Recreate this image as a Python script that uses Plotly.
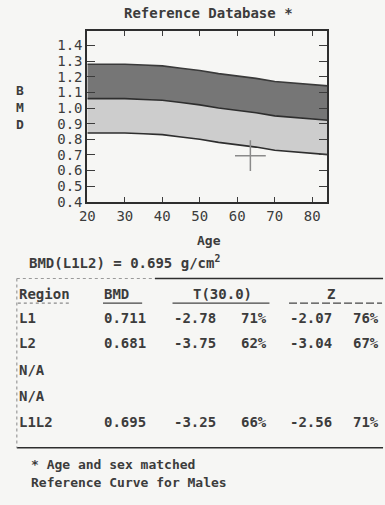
import plotly.graph_objects as go

W, H = 385, 505
BG = "#f6f6f4"
INK = "#3c3c3c"
DARK_BAND = "#767676"
LIGHT_BAND = "#cdcdcd"
FONT = "DejaVu Sans Mono"

ages = [20, 25, 30, 35, 40, 45, 50, 55, 60, 65, 70, 75, 80, 85]
upper = [1.28, 1.28, 1.28, 1.275, 1.27, 1.255, 1.24, 1.22, 1.205, 1.19, 1.17, 1.16, 1.15, 1.14]
mean = [1.06, 1.06, 1.06, 1.055, 1.05, 1.035, 1.02, 1.00, 0.985, 0.97, 0.95, 0.94, 0.93, 0.92]
lower = [0.84, 0.84, 0.84, 0.835, 0.83, 0.815, 0.80, 0.78, 0.765, 0.75, 0.73, 0.72, 0.71, 0.70]

patient_age = [63.5]
patient_bmd = [0.695]

x_ticks = [20, 30, 40, 50, 60, 70, 80]
y_ticks = [0.4, 0.5, 0.6, 0.7, 0.8, 0.9, 1.0, 1.1, 1.2, 1.3, 1.4]

regions = ["L1", "L2", "N/A", "N/A", "L1L2"]
bmd = ["0.711", "0.681", "", "", "0.695"]
t_score = ["-2.78", "-3.75", "", "", "-3.25"]
t_pct = ["71%", "62%", "", "", "66%"]
z_score = ["-2.07", "-3.04", "", "", "-2.56"]
z_pct = ["76%", "67%", "", "", "71%"]


def px(x):
    return x / W


def py(y):
    return 1 - y / H


fig = go.Figure()

fig.add_trace(go.Scatter(x=ages, y=lower, mode="lines",
                         line=dict(color="#2e2e2e", width=1.6), showlegend=False))
fig.add_trace(go.Scatter(x=ages, y=mean, mode="lines", fill="tonexty",
                         fillcolor=LIGHT_BAND,
                         line=dict(color="#2e2e2e", width=1.6), showlegend=False))
fig.add_trace(go.Scatter(x=ages, y=upper, mode="lines", fill="tonexty",
                         fillcolor=DARK_BAND,
                         line=dict(color="#3a3a3a", width=1.6), showlegend=False))
fig.add_trace(go.Scatter(x=patient_age, y=patient_bmd, mode="markers",
                         marker=dict(symbol="cross-thin", size=22,
                                     line=dict(color="#8a8a8a", width=1.5)),
                         showlegend=False))

axis_font = dict(family=FONT, size=14, color=INK)

fig.update_layout(
    width=W,
    height=H,
    margin=dict(l=0, r=0, t=0, b=0),
    paper_bgcolor=BG,
    plot_bgcolor=BG,
    xaxis=dict(
        domain=[px(81), px(326)],
        range=[20, 84],
        tickvals=x_ticks,
        ticktext=[str(v) for v in x_ticks],
        ticks="inside",
        ticklen=5,
        tickcolor=INK,
        showline=True,
        linecolor="#2e2e2e",
        linewidth=2,
        mirror="allticks",
        showgrid=False,
        zeroline=False,
        tickfont=axis_font,
    ),
    yaxis=dict(
        domain=[py(205), py(32)],
        range=[0.4, 1.49],
        tickvals=y_ticks,
        ticktext=[f"{v:.1f}" for v in y_ticks],
        ticks="inside",
        ticklen=8,
        tickcolor=INK,
        showline=True,
        linecolor="#2e2e2e",
        linewidth=2,
        mirror="allticks",
        showgrid=False,
        zeroline=False,
        tickfont=axis_font,
    ),
)

ann = []


def text(x, y, s, size=14, anchor="left"):
    ann.append(dict(x=px(x), y=py(y), xref="paper", yref="paper", text=s,
                    showarrow=False, xanchor=anchor, yanchor="middle", borderpad=0,
                    font=dict(family=FONT, size=size, color=INK)))


text(205, 13, "<b>Reference Database *</b>", 14, "center")
text(12, 109, "<b>B<br>M<br>D</b>", 13, "center")
text(205, 244, "<b>Age</b>", 13, "center")
text(20, 266, "<b>BMD(L1L2) = 0.695 g/cm<sup>2</sup></b>", 14)

text(10, 299, "<b>Region</b>", 14)
text(97, 299, "<b>BMD</b>", 14)
text(188, 299, "<b>T(30.0)</b>", 14)
text(330, 299, "<b>Z</b>", 14, "center")

row_y = [323, 349, 376, 402, 429]
for i, y in enumerate(row_y):
    text(10, y, f"<b>{regions[i]}</b>", 14)
    if bmd[i]:
        text(97, y, f"<b>{bmd[i]}</b>", 14)
        text(168, y, f"<b>{t_score[i]}</b>", 14)
        text(237, y, f"<b>{t_pct[i]}</b>", 14)
        text(287, y, f"<b>{z_score[i]}</b>", 14)
        text(380, y, f"<b>{z_pct[i]}</b>", 14, "right")

text(22, 472, "<b>* Age and sex matched</b>", 13)
text(22, 490, "<b>Reference Curve for Males</b>", 13)

fig.update_layout(annotations=ann)

shapes = [
    dict(x0=9, x1=150, y0=283, y1=283, dash="dot", color="#9a9a9a", width=1.2),
    dict(x0=150, x1=383, y0=283, y1=283, dash="solid", color="#2e2e2e", width=1.6),
    dict(x0=10, x1=65, y0=308, y1=308, dash="dot", color="#8a8a8a", width=1.2),
    dict(x0=97, x1=137, y0=308, y1=308, dash="solid", color="#444444", width=1.4),
    dict(x0=168, x1=267, y0=308, y1=308, dash="solid", color="#444444", width=1.4),
    dict(x0=287, x1=382, y0=308, y1=308, dash="8px,3px", color="#444444", width=1.4),
    dict(x0=9, x1=383, y0=455, y1=455, dash="solid", color="#2e2e2e", width=1.6),
    dict(x0=9, x1=9, y0=283, y1=455, dash="dot", color="#9a9a9a", width=1.2),
]
for s in shapes:
    fig.add_shape(type="line", xref="paper", yref="paper",
                  x0=px(s["x0"]), x1=px(s["x1"]), y0=py(s["y0"]), y1=py(s["y1"]),
                  line=dict(color=s["color"], width=s["width"], dash=s["dash"]))

# drop the browser's default body margin so the figure sits at the page corner
fig.write_html("out.html",
               config={"displayModeBar": False},
               post_script="document.body.style.margin='0';"
                           "document.body.style.overflow='hidden';")
